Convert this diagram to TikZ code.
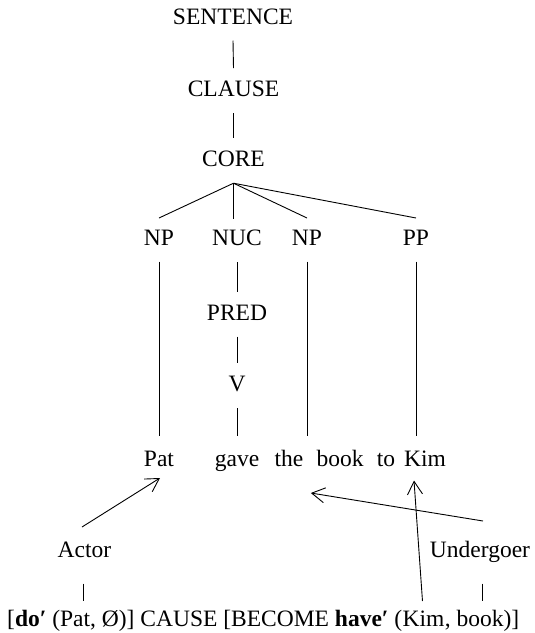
\documentclass[tikz,border=0pt]{standalone}
\usepackage{fontspec}
\setmainfont{Liberation Serif}
\usetikzlibrary{arrows.meta}
\begin{document}
\begin{tikzpicture}[x=1pt,y=-1pt,
  every node/.style={font=\fontsize{23.5}{28}\selectfont},
  lbl/.style={anchor=base,inner sep=0pt,outer sep=0pt,text height=28.5pt,text depth=16.5pt},
  word/.style={anchor=base,inner sep=0pt,outer sep=0pt,text height=30pt,text depth=12pt},
  edge/.style={line width=0.9pt},
  link/.style={line width=0.9pt,-{Straight Barb[length=13pt,width=15pt,line width=0.9pt]}}]
\useasboundingbox (0,0) rectangle (535,633);

% tree nodes (positioned on their baselines)
\node[lbl] (sent)   at (233,24)    {SENTENCE};
\node[lbl] (clause) at (233.5,96.7) {CLAUSE};
\node[lbl] (core)   at (233.5,166.7) {CORE};
\node[lbl] (np1)    at (159,245)   {NP};
\node[lbl] (nuc)    at (237,245.5) {NUC};
\node[lbl] (np2)    at (307,245)   {NP};
\node[lbl] (pp)     at (416,245)   {PP};
\node[lbl] (pred)   at (237,320)   {PRED};
\node[lbl] (v)      at (237,391.7) {V};

% the sentence
\node[word] (pat)  at (159,466) {Pat};
\node[word] (gave) at (237,466) {gave};
\node[word] (the)  at (289,466) {the};
\node[word] (book) at (340,466) {book};
\node[word] (to)   at (386,466) {to};
\node[word] (kim)  at (425,466) {Kim};

% semantic roles
\node[anchor=base,inner sep=0pt] (actor) at (84.5,557.5) {Actor};
\node[anchor=base,inner sep=0pt] (ug)    at (480,557.5) {Undergoer};

% logical structure
\node[anchor=base west,inner sep=0pt] (ls1) at (7,626)
  {[\textbf{do′} (Pat, Ø)] CAUSE [BECOME \textbf{have′} (};
\node[anchor=base west,inner sep=0pt] (lskim) at (ls1.base east) {Kim};
\node[anchor=base west,inner sep=0pt] (ls2) at (lskim.base east) {, book)]};

% tree edges
\draw[edge] (sent.south) -- (clause.north);
\draw[edge] (clause.south) -- (core.north);
\coordinate (fan) at (core.south);
\draw[edge] (fan) -- ([yshift=-1.5pt]np1.north);
\draw[edge] (fan) -- ([yshift=-1.5pt]fan |- nuc.north);
\draw[edge] (fan) -- ([yshift=-1.5pt]np2.north);
\draw[edge] (fan) -- ([yshift=-1.5pt]pp.north);
\draw[edge] (nuc.south) -- (pred.north);
\draw[edge] (pred.south) -- (v.north);
\draw[edge] (v.south) -- (v.south |- gave.north);
\draw[edge] (np1.south) -- (np1.south |- pat.north);
\draw[edge] (np2.south) -- (np2.south |- the.north);
\draw[edge] (pp.south) -- (pp.south |- to.north);

% role lines down to the logical structure
\draw[edge] ([xshift=-1pt,yshift=-26pt]actor.base) -- ([xshift=-1pt,yshift=-43pt]actor.base);
\draw[edge] ([xshift=2pt,yshift=-26pt]ug.base) -- ([xshift=2pt,yshift=-43pt]ug.base);

% linking arrows
\draw[link] ([xshift=-2.5pt,yshift=30.5pt]actor.base) -- ([xshift=1pt,yshift=-12pt]pat.base);
\draw[link] ([xshift=3pt,yshift=36.5pt]ug.base) -- ([xshift=7.5pt,yshift=-27pt]the.base east);
\draw[link] ([xshift=20pt,yshift=25pt]lskim.base west) -- ([xshift=-11pt,yshift=-14.5pt]kim.base);
\end{tikzpicture}
\end{document}
